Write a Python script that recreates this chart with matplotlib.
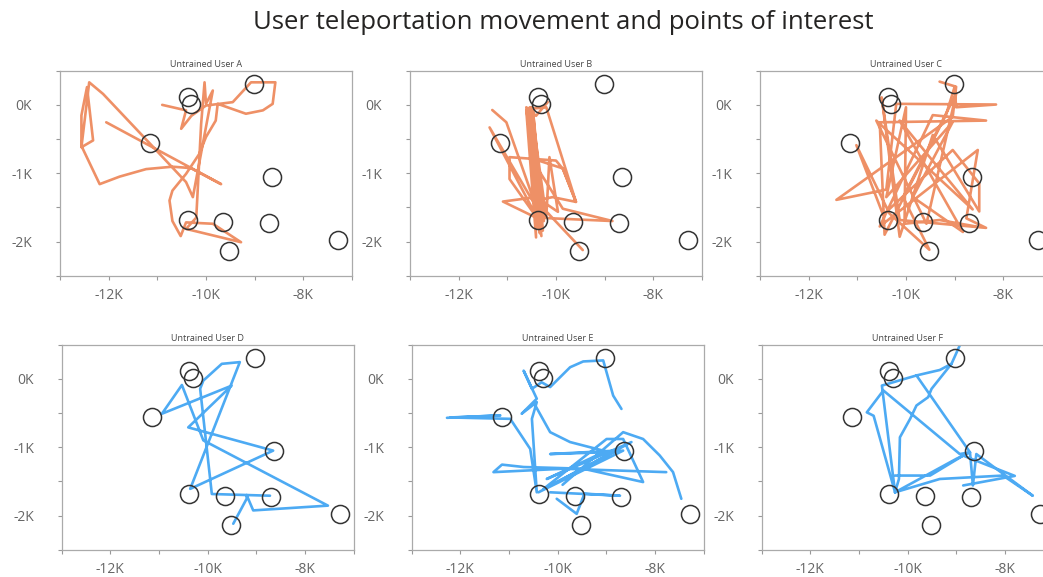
import numpy as np
import matplotlib.pyplot as plt

# Points of interest (same in every panel)
poi_x = [-10380, -10300, -9020, -11150, -8640, -10380, -9650, -8700, -9525, -7290]
poi_y = [120, 10, 300, -555, -1060, -1685, -1710, -1735, -2140, -1980]

# Teleport trajectories, None = break in the path
user_a_x = [-10900, -10410, -10510, -10300, -10000, -9450, -9075, -8575, -8630, -8830,
            -9180, -9760, -9800, -10000, -10140, -10410, -10690, -10750, -10690, -10520,
            -10410, -9860, -9280, -10410, -10200, -10100, -10030, -10000, -9860, -10270,
            -10410, -11160, -12115, -12400, -12560, -12320, -12445, -12560, -12560, -12185,
            -11775, -11230, -10690, -10310, -9690, -12050]
user_a_y = [0, -80, -350, -160, -10, 40, 330, 330, 15, -80,
            -130, 15, -230, -470, -720, -1010, -1255, -1400, -1700, -1920,
            -1720, -1740, -2010, -1815, -1650, -280, 330, 15, 210, -1350,
            -1130, -560, 160, 330, -620, -520, 260, -155, -600, -1160,
            -1050, -940, -905, -925, -1160, -255]

user_b_x = [-10170, -10410, -10610, -10300, -10540, -10270, -10475, -10340, -10610, -10410,
            -10510, -10200, -10135, -9960, -10410, -11090, -10410, -8840, -9860, -10510,
            -9860, -9590, -10200, -10560, -10330, -10590, -10380, -10480, -10250, None,
            -11310, -11020, -10410, -11365, -10375, -10955, -10955, -10000, -9860, -9590,
            -10070, -10410, -9450]
user_b_y = [40, -160, -35, -1920, -35, -1840, -60, -1740, -85, -1940,
            -35, -1650, -765, -1565, -1350, -1415, -1650, -1700, -1520, -780,
            -930, -1420, -35, -60, -1880, -120, -1800, -40, -1700, None,
            -75, -255, -1490, -330, -1670, -1085, -765, -815, -935, -1420,
            -1350, -1400, -2125]

user_c_x = [-9310, -8970, -9040, -11430, -10405, -10200, -8150, -8970, -9000, -9180,
            -10440, -10540, -8355, -9450, -10540, -8525, -8760, -8355, -10130, -10500,
            -10130, -9450, -8495, -8495, -9040, -10470, -11020, -10340, -9520, -10060,
            -8970, -9580, -10610, -8630, -10130, -8830, -9860, -9040, -10405, -10000,
            -10030, -9310, -8560]
user_c_y = [340, 265, -175, -1390, -1240, 15, 5, -35, 265, -150,
            -1900, -255, -230, -150, -1780, -660, -1660, -1800, -1685, 110,
            -1930, -440, -1560, -1150, -660, -1610, -590, -1590, -2120, -1350,
            160, -1740, -230, -1530, -230, -1860, -1350, -250, -1350, -35,
            -1740, -1685, -1780]

user_d_x = [-9475, -9200, -9200, -9065, -7530, -10090, -10530, -10940, -9510, -10400,
            -8655, -10360, -9340, -9710, -10090, -10155, -9915, -8720]
user_d_y = [-2120, -1755, -1700, -1925, -1855, -900, -90, -510, -100, -710,
            -1050, -1610, 245, 220, -25, -145, -1685, -1710]

user_e_x = [-12275, -11180, -12205, -10975, -10565, -10430, -10530, -10430, -10740, -10430,
            -10700, -10530, -10330, -10155, -9745, -9475, -9065, -8860, -8690, None,
            -10460, -10155, -9745, -8930, -8655, -10395, -8485, -10225, -9065, -10155,
            -8790, -10290, -8995, -8655, -8245, -9475, -10700, -11145, -11320, -9885,
            -7770, None, -7460, -7630, -7905, -8245, -8655, -9900, None,
            -10155, -8720, -9450, -9610, -10020]
user_e_y = [-570, -535, -565, -585, -1025, -1660, -585, -340, -510, -290,
            120, -145, -50, -120, 170, 255, 270, -245, -440, None,
            -390, -780, -925, -1075, -1050, -1660, -925, -1465, -1075, -1100,
            -1050, -1610, -880, -880, -1510, -1315, -1290, -1255, -1365, -1315,
            -1365, None, -1755, -1365, -1120, -880, -780, -1550, None,
            -1660, -1710, -1680, -1975, -1755]

user_f_x = [-8930, -9100, -9340, -9820, -10530, -10260, -10700, -10840, -10500, -8930,
            -8720, -8660, -8590, -7430, -8040, -9340, -10260, -9000, -8720, -9820, None,
            -9100, -9510, -9580, -9820, -9950, -10160, -10180, -10260, None,
            -10260, -9540, -8860, -7800, -8860]
user_f_y = [490, 220, 130, 50, -98, -1660, -540, -490, -170, -1100,
            -1075, -1560, -1100, -1710, -1415, -1465, -1660, -1170, -1075, 50, None,
            220, -146, -268, -390, -585, -855, -1465, -1660, None,
            -1415, -1415, -1123, -1420, -1560]

users = ['A', 'B', 'C', 'D', 'E', 'F']
paths = [(user_a_x, user_a_y), (user_b_x, user_b_y), (user_c_x, user_c_y),
         (user_d_x, user_d_y), (user_e_x, user_e_y), (user_f_x, user_f_y)]

x_ticks = [-13000, -12000, -11000, -10000, -9000, -8000, -7000]
x_labels = ['', '-12K', '', '-10K', '', '-8K', '']
y_ticks = [-2500, -2000, -1500, -1000, -500, 0, 500]
y_labels = ['', '-2K', '', '-1K', '', '0K', '']

orange = '#EE8A5E'
blue = '#43A6F3'

W, H = 1043, 577
fig = plt.figure(figsize=(W / 100, H / 100), dpi=100)
fig.text(563 / W, 1 - 29 / H, 'User teleportation movement and points of interest',
         ha='center', va='baseline', fontsize=18.5, color='#252423', family='Open Sans')

for i, u in enumerate(users):
    row, col = divmod(i, 3)
    left = 60 + 1.7 * row + 350 * col
    top = 70.7 + 274 * row
    ax = fig.add_axes([left / W, 1 - (top + 205) / H, 292 / W, 205 / H])
    px = np.array(paths[i][0], dtype=float)
    py = np.array(paths[i][1], dtype=float)
    ax.plot(px, py, color=orange if row == 0 else blue, lw=1.9, alpha=0.95,
            solid_joinstyle='round', solid_capstyle='round', zorder=2)
    ax.plot(poi_x, poi_y, 'o', ms=13, mfc='none', mec='#333333', mew=1.1, zorder=3)
    ax.set_xlim(-13000, -7000)
    ax.set_ylim(-2500, 500)
    ax.set_xticks(x_ticks)
    ax.set_xticklabels(x_labels)
    ax.set_yticks(y_ticks)
    ax.set_yticklabels(y_labels)
    ax.tick_params(axis='both', length=3, width=0.8, color='#999999',
                   labelcolor='#666666', labelsize=10)
    ax.tick_params(axis='x', pad=5.5)
    ax.tick_params(axis='y', pad=17)
    for s in ax.spines.values():
        s.set_color('#aaaaaa')
        s.set_linewidth(0.9)
    for lab in ax.get_xticklabels() + ax.get_yticklabels():
        lab.set_family('Open Sans')
    ax.set_title('Untrained User ' + u, fontsize=6.5, color='#444444', pad=3,
                 family='Open Sans')

fig.savefig('out.png', dpi=100)
